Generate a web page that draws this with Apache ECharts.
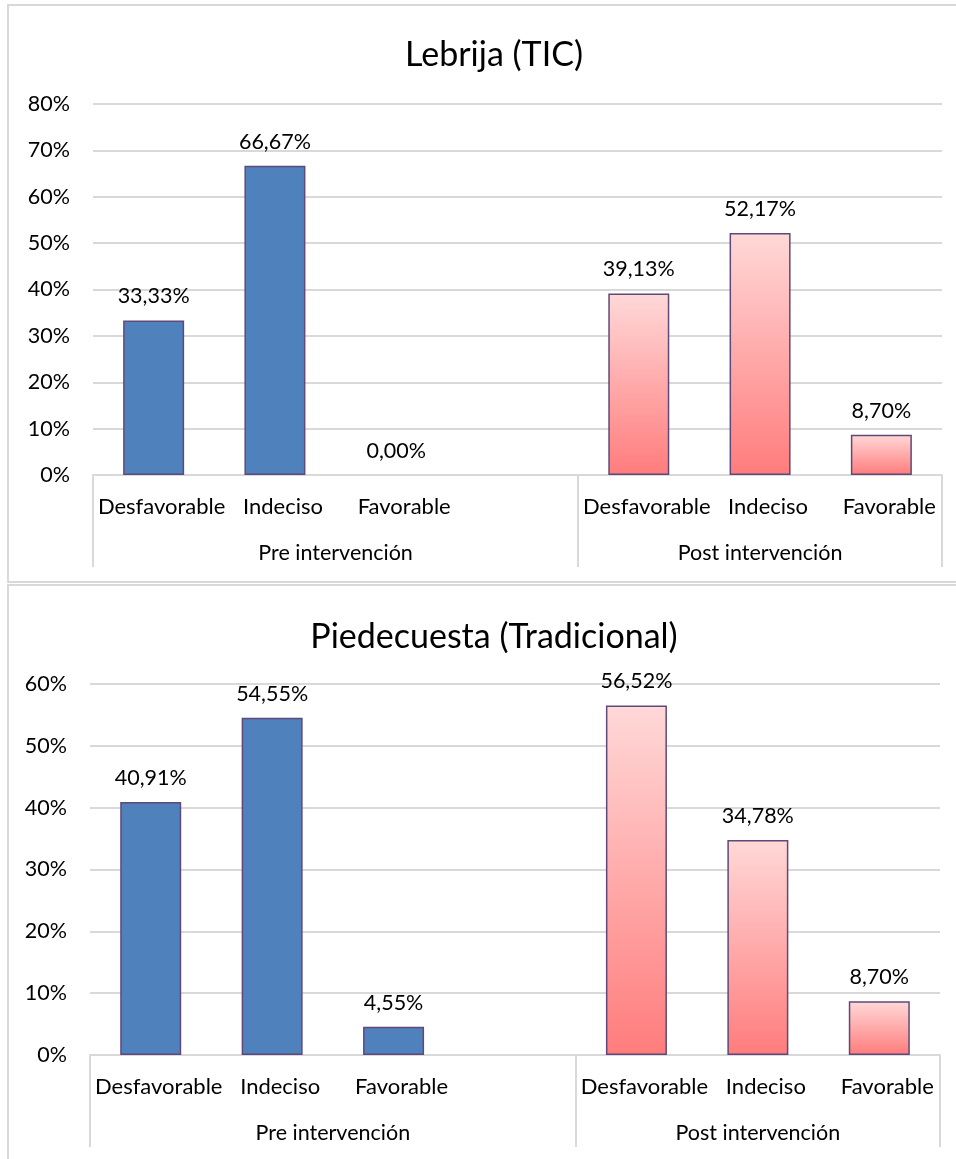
<!DOCTYPE html>
<html>
<head>
<meta charset="utf-8">
<script src="https://cdn.jsdelivr.net/npm/echarts@6/dist/echarts.min.js"></script>
<style>
  html, body { margin: 0; padding: 0; background: #fff; }
  #chart { width: 956px; height: 1159px; }
</style>
</head>
<body>
<div id="chart"></div>
<script>
// Answer categories and the two intervention phases
const categories = ['Desfavorable', 'Indeciso', 'Favorable'];
const groups = ['Pre intervención', 'Post intervención'];

// Lebrija (TIC) percentages
const lebrijaPre = [33.33, 66.67, 0.00];
const lebrijaPost = [39.13, 52.17, 8.70];

// Piedecuesta (Tradicional) percentages
const piedecuestaPre = [40.91, 54.55, 4.55];
const piedecuestaPost = [56.52, 34.78, 8.70];

const titles = ['Lebrija (TIC)', 'Piedecuesta (Tradicional)'];
const yMax = [80, 60];

// Seven slots on the category axis: three "pre" bars, one empty gap, three "post" bars
const slotLabels = categories.concat([''], categories);
const slotIds = slotLabels.map((_, i) => 'slot' + i);
// zero-height bars are drawn without an outline
const toItems = v => v.map(x => (x === 0 ? { value: x, itemStyle: { borderWidth: 0 } } : x));
const preSlots = v => toItems(v).concat(['-', '-', '-', '-']);
const postSlots = v => ['-', '-', '-', '-'].concat(toItems(v));

const FONT = 'Lato, "Noto Sans", sans-serif';
const TXT = '#000000';
const GRID = '#d9d9d9';
const fmtPct = p => p.value.toFixed(2).replace('.', ',') + '%';

const preStyle = { color: '#4f81bd', borderColor: '#5f497a', borderWidth: 1.5 };
const postStyle = {
  color: new echarts.graphic.LinearGradient(0, 0, 0, 1, [
    { offset: 0, color: '#ffd8d8' },
    { offset: 1, color: '#ff7c7c' }
  ]),
  borderColor: '#5f497a', borderWidth: 1.5
};

const grids = [
  { left: 93, right: 14, top: 104, height: 371 },
  { left: 90, right: 16, top: 684, height: 371 }
];

const xAxes = [];
const yAxes = [];
const series = [];
[[lebrijaPre, lebrijaPost], [piedecuestaPre, piedecuestaPost]].forEach((pair, g) => {
  // category axis carrying the individual answer labels
  xAxes.push({
    type: 'category', gridIndex: g, data: slotIds,
    axisLine: { show: true, lineStyle: { color: GRID, width: 2 } },
    axisTick: { show: false },
    axisLabel: {
      color: TXT, fontFamily: FONT, fontSize: 22, lineHeight: 22, margin: 21,
      interval: 0, padding: [0, 0, 0, 16],
      formatter: (v, i) => slotLabels[i]
    }
  });
  // value axis used for the phase group labels and separators
  xAxes.push({
    type: 'value', gridIndex: g, min: 0, max: 7, position: 'bottom',
    axisLine: { show: false },
    splitLine: { show: false },
    axisTick: { show: true, customValues: [0, 4, 7], length: 92, inside: false,
      lineStyle: { color: GRID, width: 2 } },
    axisLabel: {
      color: TXT, fontFamily: FONT, fontSize: 21.5, lineHeight: 22, margin: 67,
      customValues: [2, 5.5],
      formatter: v => (v < 4 ? groups[0] : groups[1])
    }
  });
  yAxes.push({
    type: 'value', gridIndex: g, min: 0, max: yMax[g], interval: 10,
    axisLine: { show: false }, axisTick: { show: false },
    splitLine: { lineStyle: { color: GRID, width: 2 } },
    axisLabel: { color: TXT, fontFamily: FONT, fontSize: 21.5, margin: 23,
      formatter: v => v + '%' }
  });
  const label = { show: true, position: 'top', distance: 13, color: TXT,
    fontFamily: FONT, fontSize: 21.5, lineHeight: 22, formatter: fmtPct };
  series.push({
    type: 'bar', xAxisIndex: g * 2, yAxisIndex: g, data: preSlots(pair[0]),
    barWidth: 61, barGap: '-100%', itemStyle: preStyle, label: label
  });
  series.push({
    type: 'bar', xAxisIndex: g * 2, yAxisIndex: g, data: postSlots(pair[1]),
    barWidth: 61, barGap: '-100%', itemStyle: postStyle, label: label
  });
});

const chart = echarts.init(document.getElementById('chart'), null, { renderer: 'canvas' });
chart.setOption({
  animation: false,
  backgroundColor: '#ffffff',
  title: [
    { text: titles[0], left: 489, top: 50, textAlign: 'center', textVerticalAlign: 'middle',
      textStyle: { fontFamily: FONT, fontSize: 34, fontWeight: 'normal', color: TXT } },
    { text: titles[1], left: 489, top: 632, textAlign: 'center', textVerticalAlign: 'middle',
      textStyle: { fontFamily: FONT, fontSize: 34, fontWeight: 'normal', color: TXT } }
  ],
  graphic: [
    { type: 'rect', shape: { x: 8, y: 5, width: 960, height: 577 },
      style: { fill: null, stroke: GRID, lineWidth: 2 }, silent: true },
    { type: 'rect', shape: { x: 8, y: 585, width: 960, height: 600 },
      style: { fill: null, stroke: GRID, lineWidth: 2 }, silent: true }
  ],
  grid: grids,
  xAxis: xAxes,
  yAxis: yAxes,
  series: series
});
</script>
</body>
</html>
